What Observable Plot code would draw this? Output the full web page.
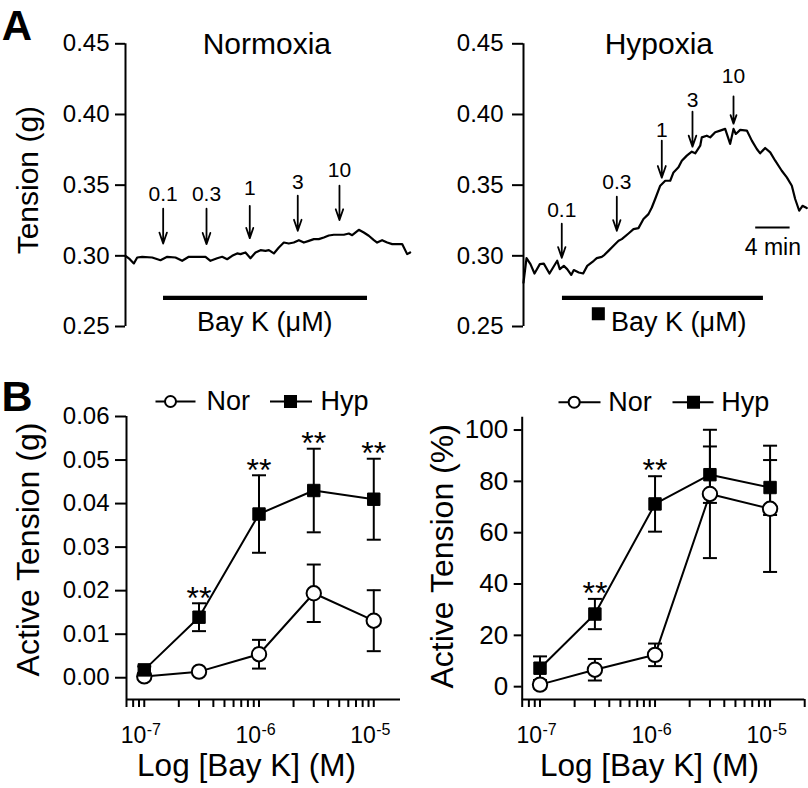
<!DOCTYPE html>
<html><head><meta charset="utf-8">
<script src="https://cdn.jsdelivr.net/npm/d3@7"></script>
<script src="https://cdn.jsdelivr.net/npm/@observablehq/plot@0.6"></script>
<style>
body{margin:0;background:#fff;}
#fig{position:relative;width:808px;height:788px;background:#fff;}
#fig svg{position:absolute;overflow:visible;}
</style></head><body><div id="fig"></div>
<script>
// ---------- Panel A: raw traces (time in min, tension in g) ----------
const normTime = [0,0.50,0.97,1.36,1.94,3.10,4.07,4.85,5.81,6.59,7.36,8.33,9.30,9.88,10.66,11.24,11.82,12.40,12.98,13.37,13.95,14.53,15.12,15.70,16.28,16.67,17.25,17.83,18.41,18.99,19.57,20.16,20.74,21.32,21.90,22.48,23.06,23.64,24.22,25.39,25.97,26.36,27.13,27.71,28.29,28.88,29.26,29.84,30.43,31.01,31.78,32.17,32.75,33.1];
const normTension = [0.300,0.2976,0.2946,0.2988,0.2993,0.2988,0.2969,0.2993,0.2988,0.2965,0.2993,0.2993,0.2993,0.2965,0.2983,0.2993,0.2976,0.3000,0.3017,0.3012,0.3024,0.2983,0.3024,0.3040,0.3035,0.3040,0.3017,0.3059,0.3094,0.3087,0.3094,0.3111,0.3094,0.3106,0.3118,0.3118,0.3130,0.3144,0.3149,0.3149,0.3158,0.3146,0.3184,0.3165,0.3142,0.3111,0.3094,0.3111,0.3094,0.3083,0.3083,0.3083,0.3012,0.3024];
const hypTime = [0,0.35,0.81,1.28,1.90,2.36,3.02,3.92,4.22,4.69,5.08,5.55,5.85,6.43,6.94,7.41,8.17,8.52,9.10,9.42,9.88,10.47,11.05,11.43,12.21,12.79,13.37,13.95,14.53,14.92,15.31,15.90,16.48,17.06,17.44,18.02,18.41,18.99,19.57,19.97,20.55,20.73,21.31,21.71,22.29,22.87,23.45,24.03,24.42,24.69,25.20,25.97,26.55,27.13,27.52,28.10,28.69,29.27,30.03,30.62,31.20,31.59,32.06,32.44,32.94];
const hypTension = [0.2811,0.2984,0.2941,0.2875,0.2941,0.2945,0.2875,0.2965,0.2906,0.2929,0.2906,0.2865,0.2899,0.2882,0.2875,0.2929,0.2965,0.2984,0.2993,0.3007,0.3035,0.3071,0.3106,0.3118,0.3158,0.3189,0.3196,0.3260,0.3295,0.3342,0.3402,0.3496,0.3531,0.3531,0.3590,0.3626,0.3673,0.3709,0.3737,0.3725,0.3779,0.3838,0.3850,0.3838,0.3874,0.3886,0.3898,0.3792,0.3898,0.3862,0.3891,0.3886,0.3815,0.3756,0.3725,0.3763,0.3732,0.3673,0.3602,0.3555,0.3496,0.3402,0.3319,0.3354,0.3338];

// dose additions (µM) : time, arrow start, arrow tip, label level
const doseLabels = ["0.1","0.3","1","3","10"];
const normArrowTime = [4.38,9.42,14.45,20.03,24.88];
const normArrowTop  = [0.3333,0.3333,0.3354,0.3425,0.3496];
const normArrowTip  = [0.3087,0.3083,0.3125,0.3177,0.3253];
const normLabelLvl  = [0.3439,0.3439,0.3475,0.3517,0.3602];
const hypArrowTime  = [4.45,10.85,16.08,19.65,24.42];
const hypArrowTop   = [0.3227,0.3418,0.3815,0.4020,0.4127];
const hypArrowTip   = [0.2986,0.3177,0.3553,0.3772,0.3935];
const hypLabelLvl   = [0.3319,0.3517,0.3886,0.4098,0.4268];

const panelTitles = ["Normoxia","Hypoxia"];
const bayStart = [4.42,4.53], bayEnd = [28.14,27.90], bayLevel = [0.2702,0.2702];
const scaleBar = {start: 27.0, end: 31.0, level: 0.3201, textLevel: 0.3059, label: "4 min"};
const strayMark = {t: 8.7, v: 0.259};
const tensionTicks = [0.25,0.30,0.35,0.40,0.45];

// ---------- Panel B: concentration-response ----------
const concentrations = [1e-7,3e-7,1e-6,3e-6,1e-5];
const norG = [0.0003,0.0014,0.0054,0.0194,0.0131];
const norGErr = [0.0003,0.0005,0.0033,0.0066,0.0070];
const hypG = [0.0018,0.0139,0.0376,0.0430,0.0410];
const hypGErr = [0.0008,0.0032,0.0089,0.0096,0.0093];
const sigG = ["","**","**","**","**"];
const norPct = [0.8,6.6,12.4,75.1,69.3];
const norPctErr = [1.5,4.2,4.4,25.0,24.6];
const hypPct = [7.2,28.3,71.2,82.6,77.6];
const hypPctErr = [4.6,5.9,10.8,11.0,10.7];
const sigPct = ["","**","**","",""];
const gTicks = [0,0.01,0.02,0.03,0.04,0.05,0.06];
const pctTicks = [0,20,40,60,80,100];
const decadeTicks = [1e-7,1e-6,1e-5];
const decadeExponents = ["-7","-6","-5"];
const seriesNames = ["Nor","Hyp"];
const panelLetters = ["A","B"];

const FONT = "'Liberation Sans', Arial, Helvetica, sans-serif";
const fig = document.getElementById("fig");
function place(svg, left, top) { svg.style.left = left + "px"; svg.style.top = top + "px"; fig.appendChild(svg); }
const baseStyle = {background: "transparent", overflow: "visible", fontFamily: FONT, color: "black"};

// custom symbol: horizontal line (error caps, legend lines)
const hLine = {draw(ctx, size) { const r = Math.sqrt(size / Math.PI); ctx.moveTo(-r, 0); ctx.lineTo(r, 0); }};

function tracePanel(opts) {
  const trace = opts.time.map((t, i) => ({t, v: opts.tension[i]}));
  const arrows = doseLabels.map((lab, i) => ({lab, t: opts.arrowTime[i], top: opts.arrowTop[i], tip: opts.arrowTip[i], lvl: opts.labelLvl[i]}));
  const marks = [
    Plot.ruleX([0], {y1: tensionTicks[0], y2: tensionTicks[tensionTicks.length - 1], strokeWidth: 2}),
    Plot.axisY({ticks: tensionTicks, tickSize: opts.tickSize, tickPadding: opts.tickPad, tickFormat: d3.format(".2f"), strokeWidth: 2, fontSize: 24, label: null}),
    Plot.line(trace, {x: "t", y: "v", strokeWidth: 2.2, strokeLinejoin: "round"}),
    Plot.arrow(arrows, {x1: "t", y1: "top", x2: "t", y2: "tip", headLength: 12, headAngle: 38, strokeWidth: 1.8, insetEnd: 0}),
    Plot.text(arrows, {x: "t", y: "lvl", text: "lab", fontSize: 21, lineAnchor: "middle"}),
    Plot.ruleY([0], {x1: () => bayStart[opts.k], x2: () => bayEnd[opts.k], y: () => bayLevel[opts.k], strokeWidth: 4.3}),
    Plot.text([panelTitles[opts.k]], {frameAnchor: "top", text: d => d, textAnchor: "middle", dx: opts.titleDx, dy: 1, fontSize: 30, lineAnchor: "middle"}),
    Plot.text(["Bay K (μM)"], {frameAnchor: "bottom", text: d => d, textAnchor: "middle", dx: opts.bayDx, dy: -4, fontSize: 27, lineAnchor: "middle"})
  ];
  if (opts.k === 0) {
    marks.push(Plot.text(["Tension (g)"], {frameAnchor: "left", text: d => d, textAnchor: "middle", rotate: -90, dx: -97, dy: -5, fontSize: 30, lineAnchor: "middle"}));
    marks.push(Plot.text([panelLetters[0]], {frameAnchor: "top-left", text: d => d, textAnchor: "middle", dx: -108.5, dy: -17.5, fontSize: 42, fontWeight: "bold", lineAnchor: "middle"}));
  } else {
    marks.push(Plot.ruleY([scaleBar], {x1: "start", x2: "end", y: "level", strokeWidth: 2}));
    marks.push(Plot.text([scaleBar], {x: d => (d.start + d.end) / 2, y: "textLevel", text: "label", fontSize: 23, lineAnchor: "middle"}));
    marks.push(Plot.dot([strayMark], {x: "t", y: "v", symbol: "square", r: 6.5, fill: "black", stroke: "black"}));
  }
  return Plot.plot({
    width: opts.width, height: 340,
    marginLeft: opts.ml, marginRight: opts.width - opts.ml - 33.1 * 8.6, marginTop: 43.3, marginBottom: 14,
    x: {domain: [0, 33.1], axis: null},
    y: {domain: [0.25, 0.45]},
    style: baseStyle,
    marks
  });
}

place(tracePanel({k: 0, time: normTime, tension: normTension, arrowTime: normArrowTime, arrowTop: normArrowTop, arrowTip: normArrowTip, labelLvl: normLabelLvl, width: 415, ml: 125, tickSize: 10, tickPad: 6, titleDx: -1, bayDx: -3}), 0, 0);
place(tracePanel({k: 1, time: hypTime, tension: hypTension, arrowTime: hypArrowTime, arrowTop: hypArrowTop, arrowTip: hypArrowTip, labelLvl: hypLabelLvl, width: 408, ml: 123, tickSize: 11, tickPad: 9, titleDx: -7, bayDx: 13}), 400, 0);

function xTickValues(maxV) {
  const out = [];
  for (let e = -8; e <= -5; e++) for (let m = 1; m <= 9; m++) { const v = m * Math.pow(10, e); if (v >= 6.99e-8 && v <= maxV * 1.001) out.push(v); }
  return out;
}

function drPanel(opts) {
  const nor = concentrations.map((c, i) => ({c, m: opts.nor[i], lo: opts.nor[i] - opts.norErr[i], hi: opts.nor[i] + opts.norErr[i]}));
  const hyp = concentrations.map((c, i) => ({c, m: opts.hyp[i], lo: opts.hyp[i] - opts.hypErr[i], hi: opts.hyp[i] + opts.hypErr[i], sig: opts.sig[i]}));
  const decades = decadeTicks.map((v, i) => ({v, e: decadeExponents[i]}));
  const L = opts.legend;
  const LY = -15;
  const marks = [
    Plot.ruleX([opts.xDomain[0]], {strokeWidth: 2}),
    Plot.ruleY([opts.yDomain[0]], {strokeWidth: 2}),
    Plot.axisY({ticks: opts.yTicks, tickSize: opts.yTickSize, tickPadding: 6, tickFormat: opts.yFmt, strokeWidth: 2, fontSize: opts.yFont, label: null}),
    Plot.axisX({ticks: xTickValues(opts.xDomain[1]), tickSize: 8, tickFormat: () => "", strokeWidth: 2, label: null}),
    Plot.text(decades, {x: "v", frameAnchor: "bottom", text: () => "10", textAnchor: "end", dx: 2, dy: 36, fontSize: 23, lineAnchor: "middle"}),
    Plot.text(decades, {x: "v", frameAnchor: "bottom", text: "e", textAnchor: "start", dx: 2.5, dy: 30.5, fontSize: 16, lineAnchor: "middle"}),
    Plot.line(nor, {x: "c", y: "m", strokeWidth: 2}),
    Plot.line(hyp, {x: "c", y: "m", strokeWidth: 2}),
    Plot.ruleX(nor, {x: "c", y1: "lo", y2: "hi", strokeWidth: 2}),
    Plot.ruleX(hyp, {x: "c", y1: "lo", y2: "hi", strokeWidth: 2}),
    Plot.dot(nor, {x: "c", y: "hi", symbol: hLine, r: 7, stroke: "black", strokeWidth: 2}),
    Plot.dot(nor, {x: "c", y: "lo", symbol: hLine, r: 7, stroke: "black", strokeWidth: 2}),
    Plot.dot(hyp, {x: "c", y: "hi", symbol: hLine, r: 7, stroke: "black", strokeWidth: 2}),
    Plot.dot(hyp, {x: "c", y: "lo", symbol: hLine, r: 7, stroke: "black", strokeWidth: 2}),
    Plot.dot(nor, {x: "c", y: "m", r: 7.2, fill: "white", stroke: "black", strokeWidth: 2}),
    Plot.dot(hyp, {x: "c", y: "m", symbol: "square", r: 7, fill: "black", stroke: "black", strokeWidth: 1}),
    Plot.text(hyp.filter(d => d.sig), {x: "c", y: "hi", text: "sig", fontSize: 32, lineAnchor: "middle", dy: -5}),
    // legend
    Plot.dot([seriesNames[0]], {frameAnchor: "top-left", dx: L.line1, dy: LY, symbol: hLine, r: L.half1, stroke: "black", strokeWidth: 2}),
    Plot.dot([seriesNames[0]], {frameAnchor: "top-left", dx: L.sym1, dy: LY, r: 5.5, fill: "white", stroke: "black", strokeWidth: 2}),
    Plot.text([seriesNames[0]], {frameAnchor: "top-left", dx: L.txt1, dy: LY, text: d => d, textAnchor: "start", fontSize: 27, lineAnchor: "middle"}),
    Plot.dot([seriesNames[1]], {frameAnchor: "top-left", dx: L.line2, dy: LY, symbol: hLine, r: L.half2, stroke: "black", strokeWidth: 2}),
    Plot.dot([seriesNames[1]], {frameAnchor: "top-left", dx: L.sym2, dy: LY, symbol: "square", r: 6.5, fill: "black", stroke: "black"}),
    Plot.text([seriesNames[1]], {frameAnchor: "top-left", dx: L.txt2, dy: LY, text: d => d, textAnchor: "start", fontSize: 27, lineAnchor: "middle"}),
    // axis titles
    Plot.text([opts.yLabel], {frameAnchor: "left", text: d => d, textAnchor: "middle", rotate: -90, dx: opts.yLabDx, dy: opts.yLabDy, fontSize: 32, lineAnchor: "middle"}),
    Plot.text(["Log [Bay K] (M)"], {frameAnchor: "bottom", text: d => d, textAnchor: "middle", dx: opts.xLabDx, dy: 66, fontSize: 31.5, lineAnchor: "middle"})
  ];
  if (opts.letter) marks.push(Plot.text([panelLetters[1]], {frameAnchor: "top-left", text: d => d, textAnchor: "middle", dx: -109.5, dy: -19, fontSize: 43, fontWeight: "bold", lineAnchor: "middle"}));
  return Plot.plot({
    width: opts.width, height: 448,
    marginLeft: opts.ml, marginRight: opts.mr, marginTop: opts.mt, marginBottom: 89,
    x: {type: "log", domain: opts.xDomain},
    y: {domain: opts.yDomain},
    style: baseStyle,
    marks
  });
}

place(drPanel({nor: norG, norErr: norGErr, hyp: hypG, hypErr: hypGErr, sig: sigG, xDomain: [7e-8, 1.71e-5], yDomain: [-0.005, 0.06], yTicks: gTicks, yFmt: d3.format(".2f"), yTickSize: 11, yFont: 24,
  width: 400, ml: 126, mr: 0, mt: 76, yLabel: "Active Tension (g)", yLabDx: -98, yLabDy: -8.5, xLabDx: -17, letter: true,
  legend: {line1: 49, half1: 20, sym1: 44, txt1: 80, line2: 164.5, half2: 21, sym2: 164, txt2: 194}}), 0, 340);
place(drPanel({nor: norPct, norErr: norPctErr, hyp: hypPct, hypErr: hypPctErr, sig: sigPct, xDomain: [7e-8, 2e-5], yDomain: [-5, 105], yTicks: pctTicks, yFmt: d3.format("d"), yTickSize: 8, yFont: 26,
  width: 408, ml: 121.7, mr: 3.8, mt: 76.7, yLabel: "Active Tension (%)", yLabDx: -79, yLabDy: -2, xLabDx: -14, letter: false,
  legend: {line1: 57.3, half1: 21, sym1: 52, txt1: 86, line2: 170.8, half2: 20.5, sym2: 171.3, txt2: 199}}), 400, 340);
</script></body></html>
